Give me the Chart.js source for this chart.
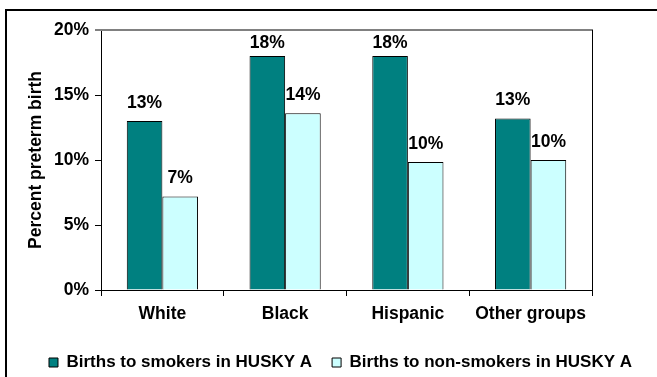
<!DOCTYPE html>
<html>
<head>
<meta charset="utf-8">
<script src="https://cdn.jsdelivr.net/npm/chart.js@4/dist/chart.umd.min.js"></script>
<style>
    html, body { margin: 0; padding: 0; background: #fff; overflow: hidden; }
    #frame { position: absolute; left: 5px; top: 9px; width: 720px; height: 420px; border: 2px solid #000; box-sizing: border-box; }
    #wrap { position: absolute; left: 0; top: 0; width: 657px; height: 377px; }
</style>
</head>
<body>
<div id="frame"></div>
<div id="wrap"><canvas id="chart" width="657" height="377"></canvas></div>
<script>
// Preterm birth by group, smokers vs non-smokers (HUSKY A)
const categories = ['White', 'Black', 'Hispanic', 'Other groups'];
const smokers = [13.0, 18.0, 18.0, 13.2];
const nonSmokers = [7.2, 13.6, 9.85, 10.0];
const yTicks = [0, 5, 10, 15, 20];
const seriesNames = ['Births to smokers in HUSKY A', 'Births to non-smokers in HUSKY A'];

const FONT = "'Liberation Sans', Arial, sans-serif";
const TXT = 17.5;

// value labels above each bar (kept inside the plot area for the tall bars)
const barLabels = {
    id: 'barLabels',
    afterDatasetsDraw(chart) {
        const ctx = chart.ctx;
        const top = chart.chartArea.top;
        ctx.save();
        ctx.font = `bold ${TXT}px ${FONT}`;
        ctx.fillStyle = '#000';
        ctx.textAlign = 'center';
        ctx.textBaseline = 'alphabetic';
        chart.data.datasets.forEach((ds, i) => {
            chart.getDatasetMeta(i).data.forEach((bar, j) => {
                const y = Math.max(bar.y - 13, top + 18);
                ctx.fillText(Math.round(ds.data[j]) + '%', bar.x, y);
            });
        });
        ctx.restore();
    }
};

// grey top edge and black right edge of the plot area
const plotFrame = {
    id: 'plotFrame',
    afterDraw(chart) {
        const { ctx, chartArea: a } = chart;
        ctx.save();
        ctx.strokeStyle = '#808080';
        ctx.lineWidth = 2;
        ctx.beginPath();
        ctx.moveTo(a.left - 6, a.top);
        ctx.lineTo(a.right + 1, a.top);
        ctx.stroke();
        ctx.strokeStyle = '#000';
        ctx.lineWidth = 1;
        ctx.beginPath();
        ctx.moveTo(a.right + 0.5, a.top);
        ctx.lineTo(a.right + 0.5, a.bottom + 6);
        ctx.stroke();
        ctx.restore();
    }
};

new Chart(document.getElementById('chart'), {
    type: 'bar',
    data: {
        labels: categories,
        datasets: [{
            label: seriesNames[0],
            data: smokers,
            backgroundColor: '#008080',
            borderColor: '#000',
            borderWidth: 1
        }, {
            label: seriesNames[1],
            data: nonSmokers,
            backgroundColor: '#CCFFFF',
            borderColor: '#000',
            borderWidth: 1
        }]
    },
    options: {
        responsive: false,
        animation: false,
        layout: { padding: { left: 24, right: 0, top: 30, bottom: -4 } },
        datasets: { bar: { categoryPercentage: 0.58, barPercentage: 1.0 } },
        plugins: {
            legend: {
                position: 'bottom',
                labels: {
                    font: { family: FONT, size: 17, weight: 'bold' },
                    color: '#000',
                    boxWidth: 9,
                    boxHeight: 9,
                    padding: 20
                }
            },
            tooltip: { enabled: false }
        },
        scales: {
            x: {
                grid: { display: true, drawOnChartArea: false, tickLength: 6, color: '#000', offset: true },
                border: { color: '#000', width: 1 },
                ticks: { font: { family: FONT, size: TXT, weight: 'bold' }, color: '#000', padding: 8 },
                afterFit: s => { s.height = 44; }
            },
            y: {
                min: 0,
                max: 20,
                afterBuildTicks: s => { s.ticks = yTicks.map(v => ({ value: v })); },
                grid: { display: true, drawOnChartArea: false, tickLength: 6, color: '#000' },
                border: { color: '#000', width: 1 },
                ticks: {
                    font: { family: FONT, size: TXT, weight: 'bold' },
                    color: '#000',
                    padding: 6,
                    callback: v => v + '%'
                },
                title: {
                    display: true,
                    text: 'Percent preterm birth',
                    font: { family: FONT, size: TXT, weight: 'bold' },
                    color: '#000',
                    padding: { top: 2, bottom: 0 }
                },
                afterFit: s => { s.width = 77; }
            },
            // empty right-hand axis that only reserves the space right of the plot
            yRight: {
                position: 'right',
                min: 0,
                max: 20,
                grid: { display: false },
                border: { display: false },
                ticks: { display: false },
                afterFit: s => { s.width = 65; }
            }
        }
    },
    plugins: [barLabels, plotFrame]
});
</script>
</body>
</html>
